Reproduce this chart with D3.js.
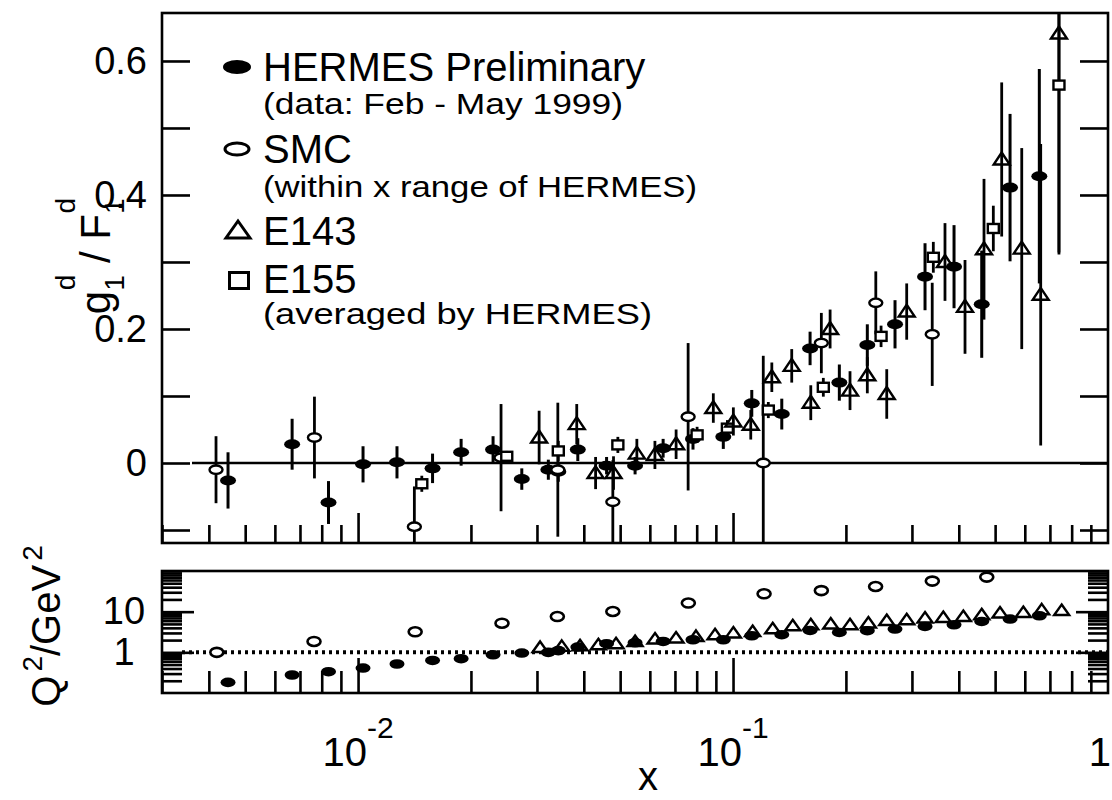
<!DOCTYPE html>
<html><head><meta charset="utf-8">
<script src="https://cdn.jsdelivr.net/npm/d3@7"></script>
<style>
body{margin:0;background:#fff;}
svg{display:block;font-family:"Liberation Sans",Arial,Helvetica,sans-serif;}
</style></head><body>
<svg id="chart" width="1112" height="800"></svg>
<script>
// ---------------- data ----------------
// HERMES preliminary (filled ellipses): x, g1/F1, error, Q^2
const hermesX   = [0.00450,0.00667,0.00834,0.01031,0.01270,0.01580,0.01883,0.02291,0.02733,0.03217,0.0342,0.03855,0.0460,0.0548,0.0651,0.0782,0.0942,0.1122,0.1349,0.1605,0.1921,0.2281,0.2704,0.3251,0.3885,0.4605,0.5480,0.6559];
const hermesG   = [-0.026,0.028,-0.059,-0.002,0.001,-0.008,0.016,0.020,-0.024,-0.010,-0.013,0.020,-0.004,-0.004,0.022,0.036,0.039,0.089,0.073,0.171,0.120,0.176,0.207,0.278,0.293,0.237,0.411,0.428];
const hermesErr = [0.042,0.038,0.032,0.027,0.024,0.022,0.020,0.020,0.016,0.015,0.015,0.017,0.013,0.013,0.014,0.016,0.018,0.020,0.023,0.025,0.027,0.031,0.036,0.050,0.062,0.080,0.110,0.160];
const hermesQ2  = [0.182,0.277,0.334,0.411,0.516,0.632,0.697,0.873,0.96,1.0,1.1,1.35,1.63,1.72,1.85,2.04,2.04,2.56,2.71,3.45,3.08,3.40,3.74,4.33,4.77,5.74,6.58,7.93];

// SMC (open ellipses)
const smcX   = [0.00418,0.00765,0.01413,0.02406,0.0341,0.0478,0.0759,0.1204,0.1720,0.2403,0.3398];
const smcG   = [-0.010,0.038,-0.095,0.008,-0.010,-0.058,0.069,0.000,0.179,0.239,0.192];
const smcErr = [0.050,0.061,0.060,0.080,0.100,0.062,0.110,0.160,0.045,0.047,0.077];
const smcQ2X = [0.0042,0.00763,0.0142,0.0242,0.034,0.0478,0.076,0.121,0.172,0.240,0.340,0.475];
const smcQ2  = [1.0,1.85,3.2,5.2,7.6,10.1,16.3,27.5,33,41.6,56.5,70.8];

// E143 (open triangles)
const e143X   = [0.0304,0.0383,0.0430,0.0480,0.0554,0.0619,0.0705,0.0886,0.1002,0.1115,0.1269,0.1434,0.1612,0.1815,0.2051,0.2281,0.2570,0.2905,0.3675,0.4156,0.4670,0.5206,0.5888,0.6615,0.7400];
const e143G   = [0.038,0.058,-0.015,-0.015,0.014,0.012,0.028,0.082,0.062,0.057,0.128,0.145,0.090,0.200,0.108,0.131,0.103,0.226,0.300,0.233,0.319,0.453,0.320,0.251,0.641];
const e143Err = [0.040,0.030,0.024,0.025,0.022,0.021,0.022,0.022,0.021,0.022,0.022,0.025,0.026,0.029,0.029,0.027,0.037,0.042,0.058,0.070,0.105,0.115,0.150,0.225,0.330];
const e143Q2X = [0.03058,0.03493,0.03908,0.04374,0.04875,0.05480,0.06194,0.07047,0.07965,0.08954,0.1002,0.1128,0.1276,0.1443,0.1612,0.1822,0.2051,0.2296,0.2570,0.2905,0.3251,0.3637,0.4113,0.4605,0.5152,0.5945,0.6656,0.7524];
const e143Q2  = [1.32,1.40,1.45,1.54,1.63,1.85,2.12,2.25,2.46,2.71,2.98,3.26,3.80,4.50,4.77,4.96,4.77,5.25,6.08,6.32,6.97,7.20,7.62,8.40,9.24,9.55,11.1,10.7];

// E155 averaged by HERMES (open squares)
const e155X   = [0.01479,0.02492,0.0342,0.0493,0.0802,0.0966,0.1242,0.1741,0.2482,0.3421,0.4945,0.7400];
const e155G   = [-0.031,0.010,0.018,0.027,0.042,0.052,0.079,0.113,0.189,0.307,0.350,0.564];
const e155Err = [0.012,0.008,0.015,0.012,0.012,0.012,0.012,0.014,0.016,0.023,0.034,0.250];

// axis ticks
const gTickValues = [-0.1,0,0.1,0.2,0.3,0.4,0.5,0.6];
const gTickLabels = [0,0.2,0.4,0.6];
const q2TickLabels = [1,10];
const xMajorTicks = [0.01,0.1,1];
const xTickText = [["10","-2"],["10","-1"],["1",""]];

// ---------------- layout ----------------
const svg = d3.select("#chart");
const L = 162, R = 1108;
const T0 = 13, T1 = 543;     // upper panel
const B0 = 571, B1 = 693;    // lower panel

const x  = d3.scaleLog().domain([0.003, 1]).range([L, R]);
const yG = d3.scaleLinear().domain([-0.1194, 0.6716]).range([T1, T0]);
const yQ = d3.scaleLog().domain([0.1, 100]).range([B1, B0]);

function logTicks(lo, hi) {
  const out = [];
  for (let e = -4; e <= 3; e++) for (let k = 1; k <= 9; k++) {
    const v = k * Math.pow(10, e);
    if (v >= lo * 0.9999 && v <= hi * 1.0001) out.push(v);
  }
  return out;
}
const xMinor = logTicks(0.003, 1).filter(v => !xMajorTicks.some(m => Math.abs(m - v) < 1e-9));
const qAll = logTicks(0.1, 100);
const qMinor = qAll.filter(v => ![0.1,1,10,100].some(m => Math.abs(m - v) < 1e-9));

svg.append("defs").call(d => {
  d.append("clipPath").attr("id","clipTop").append("rect")
    .attr("x",L).attr("y",T0).attr("width",R-L).attr("height",T1-T0);
  d.append("clipPath").attr("id","clipBot").append("rect")
    .attr("x",L).attr("y",B0).attr("width",R-L).attr("height",B1-B0);
});

function styleAxis(g) {
  g.select(".domain").remove();
  g.selectAll(".tick line").attr("stroke","#000").attr("stroke-width",2.6);
}

// ---- upper panel axes ----
svg.append("g").attr("transform",`translate(0,${T1})`)
  .call(d3.axisTop(x).tickValues(xMinor).tickSize(18).tickFormat(""))
  .call(styleAxis);
svg.append("g").attr("transform",`translate(0,${T1})`)
  .call(d3.axisTop(x).tickValues([0.01,0.1]).tickSize(30).tickFormat(""))
  .call(styleAxis);
svg.append("g").attr("transform",`translate(${L},0)`)
  .call(d3.axisRight(yG).tickValues(gTickValues).tickSize(28).tickFormat(""))
  .call(styleAxis);
svg.append("g").attr("transform",`translate(${R},0)`)
  .call(d3.axisLeft(yG).tickValues(gTickValues).tickSize(28).tickFormat(""))
  .call(styleAxis);
svg.append("g").attr("transform",`translate(${L},0)`)
  .call(d3.axisLeft(yG).tickValues(gTickLabels).tickSize(0).tickPadding(15)
        .tickFormat(d => d === 0 ? "0" : d3.format(".1f")(d)))
  .call(g => { g.select(".domain").remove();
    g.selectAll("text").attr("font-size",38).attr("fill","#000")
     .attr("font-family","Liberation Sans, Arial, sans-serif"); });

// ---- lower panel axes ----
svg.append("g").attr("transform",`translate(0,${B1})`)
  .call(d3.axisTop(x).tickValues(xMinor).tickSize(22).tickFormat(""))
  .call(styleAxis);
svg.append("g").attr("transform",`translate(0,${B1})`)
  .call(d3.axisTop(x).tickValues([0.01,0.1]).tickSize(35).tickFormat(""))
  .call(styleAxis);
svg.append("g").attr("transform",`translate(${L},0)`)
  .call(d3.axisRight(yQ).tickValues(qMinor).tickSize(20).tickFormat(""))
  .call(styleAxis);
svg.append("g").attr("transform",`translate(${L},0)`)
  .call(d3.axisRight(yQ).tickValues([1,10]).tickSize(32).tickFormat(""))
  .call(styleAxis);
svg.append("g").attr("transform",`translate(${R},0)`)
  .call(d3.axisLeft(yQ).tickValues(qMinor).tickSize(20).tickFormat(""))
  .call(styleAxis);
svg.append("g").attr("transform",`translate(${R},0)`)
  .call(d3.axisLeft(yQ).tickValues([1,10]).tickSize(32).tickFormat(""))
  .call(styleAxis);
// Q^2 labels are centred in a column left of the frame
svg.append("g").attr("transform",`translate(${L},0)`)
  .call(d3.axisLeft(yQ).tickValues(q2TickLabels).tickSize(0).tickPadding(16).tickFormat(d3.format("d")))
  .call(g => { g.select(".domain").remove();
    g.selectAll("text").attr("font-size",38).attr("fill","#000")
     .attr("text-anchor","middle").attr("x",-38)
     .attr("font-family","Liberation Sans, Arial, sans-serif"); });

// frames
[[T0,T1],[B0,B1]].forEach(([a,b]) => {
  svg.append("rect").attr("x",L).attr("y",a).attr("width",R-L).attr("height",b-a)
    .attr("fill","none").attr("stroke","#000").attr("stroke-width",2.6);
});

// x tick labels with exponents (the last one sits flush with the right edge)
const xl = svg.append("g").attr("font-size",40);
xMajorTicks.forEach((v,i) => {
  const last = i === xMajorTicks.length - 1;
  const t = xl.append("text").attr("y",766)
    .attr("x", last ? 1111 : x(v)).attr("text-anchor", last ? "end" : "middle");
  t.append("tspan").text(xTickText[i][0]);
  if (xTickText[i][1]) t.append("tspan").attr("dy",-28).attr("font-size",30).text(xTickText[i][1]);
});
svg.append("text").attr("x",648).attr("y",790).attr("text-anchor","middle")
  .attr("font-size",40).text("x");

// y axis titles
const yt = svg.append("text").attr("transform","translate(110,256) rotate(-90)")
  .attr("text-anchor","middle").attr("font-size",42);
yt.append("tspan").text("g");
yt.append("tspan").attr("font-size",28).attr("dy",14).text("1");
yt.append("tspan").attr("font-size",28).attr("dy",-49).attr("dx",-15).text("d");
yt.append("tspan").attr("dy",35).text(" / F");
yt.append("tspan").attr("font-size",28).attr("dy",14).text("1");
yt.append("tspan").attr("font-size",28).attr("dy",-49).attr("dx",-15).text("d");

const qt = svg.append("text").attr("transform","translate(60,626) rotate(-90)")
  .attr("text-anchor","middle").attr("font-size",40);
qt.append("tspan").text("Q");
qt.append("tspan").attr("font-size",28).attr("dy",-18).attr("dx",4).text("2");
qt.append("tspan").attr("dy",18).text("/GeV");
qt.append("tspan").attr("font-size",28).attr("dy",-18).attr("dx",4).text("2");

// ---------------- upper panel data ----------------
const upper = svg.append("g").attr("clip-path","url(#clipTop)");
upper.append("line").attr("x1",192).attr("x2",R).attr("y1",yG(0)).attr("y2",yG(0))
  .attr("stroke","#000").attr("stroke-width",2.6);

function bars(xs, gs, es, w) {
  upper.append("g").selectAll("line").data(d3.range(xs.length)).join("line")
    .attr("x1", i => x(xs[i])).attr("x2", i => x(xs[i]))
    .attr("y1", i => yG(gs[i] - es[i])).attr("y2", i => yG(gs[i] + es[i]))
    .attr("stroke","#000").attr("stroke-width", w);
}
bars(smcX, smcG, smcErr, 2.8);
bars(e155X, e155G, e155Err, 2.8);
bars(hermesX, hermesG, hermesErr, 3);
bars(e143X, e143G, e143Err, 2.8);

upper.append("g").selectAll("ellipse").data(d3.range(hermesX.length)).join("ellipse")
  .attr("cx", i => x(hermesX[i])).attr("cy", i => yG(hermesG[i]))
  .attr("rx",8).attr("ry",5).attr("fill","#000");
upper.append("g").selectAll("ellipse").data(d3.range(smcX.length)).join("ellipse")
  .attr("cx", i => x(smcX[i])).attr("cy", i => yG(smcG[i]))
  .attr("rx",6.5).attr("ry",4.2).attr("fill","#fff").attr("stroke","#000").attr("stroke-width",2.4);
upper.append("g").selectAll("rect").data(d3.range(e155X.length)).join("rect")
  .attr("x", i => x(e155X[i]) - 5.5).attr("y", i => yG(e155G[i]) - 4.5)
  .attr("width",11).attr("height",9).attr("fill","#fff").attr("stroke","#000").attr("stroke-width",2.4);
const tri = "M0,-7L8,5L-8,5Z";
upper.append("g").selectAll("path").data(d3.range(e143X.length)).join("path")
  .attr("transform", i => `translate(${x(e143X[i])},${yG(e143G[i])})`)
  .attr("d", tri).attr("fill","none").attr("stroke","#000").attr("stroke-width",2.4);

// ---------------- lower panel data ----------------
const lower = svg.append("g").attr("clip-path","url(#clipBot)");
lower.append("line").attr("x1",182).attr("x2",R).attr("y1",yQ(1)).attr("y2",yQ(1))
  .attr("stroke","#000").attr("stroke-width",4).attr("stroke-dasharray","3,4");
lower.append("g").selectAll("ellipse").data(d3.range(smcQ2X.length)).join("ellipse")
  .attr("cx", i => x(smcQ2X[i])).attr("cy", i => yQ(smcQ2[i]))
  .attr("rx",6.5).attr("ry",4.5).attr("fill","#fff").attr("stroke","#000").attr("stroke-width",2.6);
lower.append("g").selectAll("path").data(d3.range(e143Q2X.length)).join("path")
  .attr("transform", i => `translate(${x(e143Q2X[i])},${yQ(e143Q2[i])})`)
  .attr("d", "M0,-6L7.5,4.5L-7.5,4.5Z").attr("fill","#fff").attr("stroke","#000").attr("stroke-width",2.4);
lower.append("g").selectAll("ellipse").data(d3.range(hermesX.length)).join("ellipse")
  .attr("cx", i => x(hermesX[i])).attr("cy", i => yQ(hermesQ2[i]))
  .attr("rx",7.5).attr("ry",4.8).attr("fill","#000");

// ---------------- legend ----------------
const lg = svg.append("g");
lg.append("ellipse").attr("cx",237).attr("cy",67).attr("rx",14).attr("ry",7).attr("fill","#000");
lg.append("ellipse").attr("cx",237).attr("cy",149).attr("rx",12).attr("ry",6)
  .attr("fill","#fff").attr("stroke","#000").attr("stroke-width",3);
lg.append("path").attr("transform","translate(238,230)").attr("d","M0,-9L12,8L-12,8Z")
  .attr("fill","#fff").attr("stroke","#000").attr("stroke-width",3);
lg.append("rect").attr("x",229.5).attr("y",272.5).attr("width",19).attr("height",16)
  .attr("fill","#fff").attr("stroke","#000").attr("stroke-width",3);

const legendRows = [
  {text:"HERMES Preliminary", y:81, size:40},
  {text:"(data: Feb - May 1999)", y:114, size:29, len:360},
  {text:"SMC", y:163, size:40},
  {text:"(within x range of HERMES)", y:197, size:29, len:434},
  {text:"E143", y:245, size:40},
  {text:"E155", y:293, size:40},
  {text:"(averaged by HERMES)", y:324, size:29, len:389}
];
legendRows.forEach(r => {
  const t = lg.append("text").attr("x",263).attr("y",r.y).attr("font-size",r.size).text(r.text);
  if (r.len) t.attr("textLength",r.len).attr("lengthAdjust","spacingAndGlyphs");
});
</script>
</body></html>
